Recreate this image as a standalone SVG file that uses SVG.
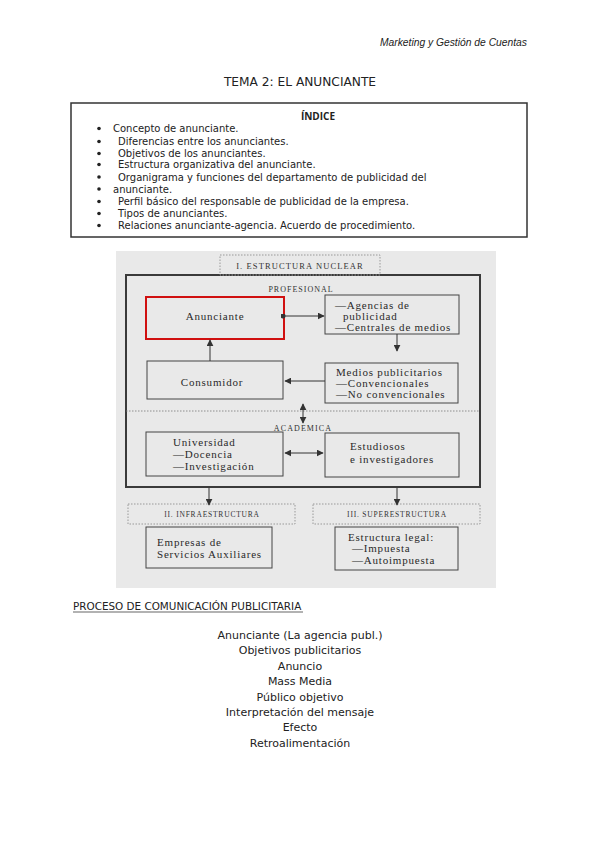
<svg xmlns="http://www.w3.org/2000/svg" width="600" height="848" viewBox="0 0 600 848">
<defs>
<marker id="ah" viewBox="0 0 10 10" refX="9" refY="5" markerWidth="7" markerHeight="7" markerUnits="userSpaceOnUse" orient="auto-start-reverse">
<path d="M0,0 L10,5 L0,10 z" fill="#333"/>
</marker>
<marker id="dot" viewBox="0 0 10 10" refX="5" refY="5" markerWidth="5" markerHeight="5" markerUnits="userSpaceOnUse">
<circle cx="5" cy="5" r="5" fill="#333"/>
</marker>
</defs>
<style>
.doc{font-family:"DejaVu Sans","Open Sans",sans-serif;fill:#222}
.idx{font-size:10px}
.list{font-size:11px;text-anchor:middle}
.sc{font-family:"Liberation Serif","DejaVu Serif",serif;fill:#2a2a2a;font-size:11px;letter-spacing:0.8px}
.cap{font-family:"Liberation Serif","DejaVu Serif",serif;fill:#333;font-size:7.5px;letter-spacing:0.8px;text-anchor:middle}
.box{fill:none;stroke:#444;stroke-width:1}
.dotbox{fill:none;stroke:#999;stroke-width:1;stroke-dasharray:1.5 1.5}
.conn{stroke:#333;stroke-width:1;fill:none}
</style>
<rect width="600" height="848" fill="#fff"/>
<text x="527" y="46" font-size="10.3" font-style="italic" text-anchor="end" font-family="Liberation Sans,Arial,sans-serif" fill="#222">Marketing y Gestión de Cuentas</text>
<text class="doc" x="300" y="86" font-size="12.2" text-anchor="middle">TEMA 2: EL ANUNCIANTE</text>
<g id="indice">
<rect x="71" y="103" width="456" height="134" fill="none" stroke="#333" stroke-width="1.5"/>
<text x="318" y="120" font-size="10" font-weight="bold" text-anchor="middle" font-family="Open Sans,sans-serif" fill="#222">ÍNDICE</text>
<g class="doc idx" fill="#222">
<circle cx="99" cy="128.5" r="1.8"/><circle cx="99" cy="141.5" r="1.8"/><circle cx="99" cy="153.5" r="1.8"/><circle cx="99" cy="164.5" r="1.8"/><circle cx="99" cy="177" r="1.8"/><circle cx="99" cy="189" r="1.8"/><circle cx="99" cy="201.5" r="1.8"/><circle cx="99" cy="213.5" r="1.8"/><circle cx="99" cy="225.5" r="1.8"/>
<text x="113" y="132">Concepto de anunciante.</text>
<text x="118" y="145">Diferencias entre los anunciantes.</text>
<text x="118" y="157">Objetivos de los anunciantes.</text>
<text x="118" y="168">Estructura organizativa del anunciante.</text>
<text x="118" y="180.5">Organigrama y funciones del departamento de publicidad del</text>
<text x="113" y="192.5">anunciante.</text>
<text x="118" y="205">Perfil básico del responsable de publicidad de la empresa.</text>
<text x="118" y="217">Tipos de anunciantes.</text>
<text x="118" y="229">Relaciones anunciante-agencia. Acuerdo de procedimiento.</text>
</g>
</g>
<rect x="116" y="251" width="380" height="337" fill="#e9e9e9"/>
<g id="nuclear">
<rect x="126" y="275" width="354" height="212" fill="none" stroke="#3a3a3a" stroke-width="2"/>
<rect class="dotbox" x="220" y="255" width="160" height="20"/>
<text class="cap" x="300" y="269" style="font-size:8.5px;letter-spacing:1.1px">I. ESTRUCTURA NUCLEAR</text>
<text class="cap" x="301" y="292" style="font-size:8px;letter-spacing:1px">PROFESIONAL</text>
<line x1="126" y1="411" x2="480" y2="411" stroke="#777" stroke-width="0.8" stroke-dasharray="1.5 1.5"/>
<text class="cap" x="303" y="431" style="font-size:8px;letter-spacing:1.1px">ACADEMICA</text>
</g>
<g id="anunciante">
<rect x="146" y="297" width="138" height="42" fill="none" stroke="#d01010" stroke-width="2"/>
<text class="sc" x="215" y="320" text-anchor="middle">Anunciante</text>
</g>
<g id="agencias">
<rect class="box" x="325" y="295" width="134" height="39"/>
<text class="sc" x="335" y="309">—Agencias de</text>
<text class="sc" x="343" y="320">publicidad</text>
<text class="sc" x="335" y="331">—Centrales de medios</text>
</g>
<g id="medios">
<rect class="box" x="325" y="363" width="133" height="40"/>
<text class="sc" x="336" y="376">Medios publicitarios</text>
<text class="sc" x="336" y="387">—Convencionales</text>
<text class="sc" x="336" y="398">—No convencionales</text>
</g>
<g id="consumidor">
<rect class="box" x="147" y="361" width="136" height="38"/>
<text class="sc" x="212" y="386" text-anchor="middle">Consumidor</text>
</g>
<g id="universidad">
<rect class="box" x="146" y="432" width="137" height="44"/>
<text class="sc" x="173" y="446">Universidad</text>
<text class="sc" x="173" y="458">—Docencia</text>
<text class="sc" x="173" y="470">—Investigación</text>
</g>
<g id="estudiosos">
<rect class="box" x="325" y="433" width="134" height="44"/>
<text class="sc" x="350" y="450">Estudiosos</text>
<text class="sc" x="350" y="463">e investigadores</text>
</g>
<g id="infraestructura">
<rect class="dotbox" x="128" y="504" width="167" height="20"/>
<text class="cap" x="212" y="517">II. INFRAESTRUCTURA</text>
</g>
<g id="superestructura">
<rect class="dotbox" x="313" y="504" width="167" height="20"/>
<text class="cap" x="397" y="517">III. SUPERESTRUCTURA</text>
</g>
<g id="empresas">
<rect class="box" x="146" y="527" width="126" height="41"/>
<text class="sc" x="157" y="546">Empresas de</text>
<text class="sc" x="157" y="558">Servicios Auxiliares</text>
</g>
<g id="legal">
<rect class="box" x="335" y="527" width="123" height="43"/>
<text class="sc" x="348" y="541">Estructura legal:</text>
<text class="sc" x="352" y="552">—Impuesta</text>
<text class="sc" x="352" y="564">—Autoimpuesta</text>
</g>
<g id="connectors">
<line class="conn" x1="283" y1="316" x2="324" y2="316" marker-start="url(#dot)" marker-end="url(#ah)"/>
<line class="conn" x1="397" y1="334" x2="397" y2="351" marker-end="url(#ah)"/>
<line class="conn" x1="325" y1="381" x2="285" y2="381" marker-end="url(#ah)"/>
<line class="conn" x1="210" y1="361" x2="210" y2="340" marker-end="url(#ah)"/>
<line class="conn" x1="303" y1="404" x2="303" y2="423" marker-start="url(#ah)" marker-end="url(#ah)"/>
<line class="conn" x1="285" y1="453" x2="323" y2="453" stroke-width="0.6" stroke="#777" marker-start="url(#ah)" marker-end="url(#ah)"/>
<line class="conn" x1="209" y1="488" x2="209" y2="505" marker-end="url(#ah)"/>
<line class="conn" x1="397" y1="488" x2="397" y2="505" marker-end="url(#ah)"/>
</g>
<g id="proceso">
<text class="doc" x="73" y="610" font-size="10.4">PROCESO DE COMUNICACIÓN PUBLICITARIA</text>
<line x1="73" y1="612" x2="303" y2="612" stroke="#222" stroke-width="0.7"/>
<g class="doc list">
<text x="300" y="639">Anunciante (La agencia publ.)</text>
<text x="300" y="654">Objetivos publicitarios</text>
<text x="300" y="670">Anuncio</text>
<text x="300" y="685">Mass Media</text>
<text x="300" y="701">Público objetivo</text>
<text x="300" y="716">Interpretación del mensaje</text>
<text x="300" y="731">Efecto</text>
<text x="300" y="747">Retroalimentación</text>
</g>
</g>
</svg>
